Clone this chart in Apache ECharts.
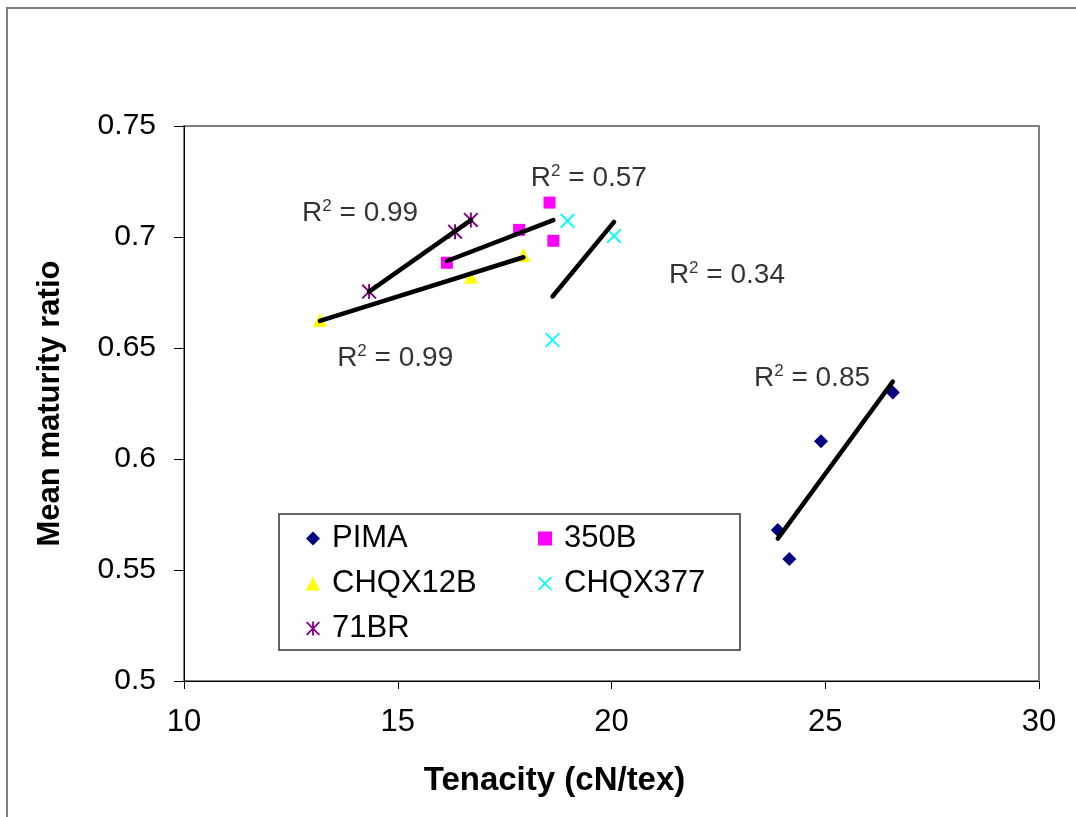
<!DOCTYPE html>
<html>
<head>
<meta charset="utf-8">
<script src="https://cdn.jsdelivr.net/npm/echarts@6/dist/echarts.min.js"></script>
<style>
  html, body { margin: 0; padding: 0; background: #fff; }
  #container { width: 1076px; height: 817px; }
</style>
</head>
<body>
<div id="container"></div>
<script>
// values: [tenacity, maturity ratio]
var pima     = [[26.58, 0.630], [24.90, 0.608], [23.89, 0.568], [24.16, 0.555]];
var b350     = [[18.55, 0.7155], [17.84, 0.7032], [18.64, 0.6983], [16.15, 0.6884]];
var chqx12b  = [[13.18, 0.6626], [16.71, 0.6821], [17.94, 0.6919]];
var chqx377  = [[18.97, 0.7073], [20.06, 0.7005], [18.62, 0.6536]];
var br71     = [[14.33, 0.6754], [16.34, 0.7024], [16.71, 0.7077]];

// R2 labels as printed, with the spot they sit on (data units)
var r2Text   = ['0.99', '0.57', '0.34', '0.99', '0.85'];
var r2Pos    = [[14.12, 0.7108], [19.47, 0.7266], [22.70, 0.6829], [14.94, 0.6455], [24.69, 0.6365]];

var xTicks = { min: 10, max: 30, interval: 5 };
var yTicks = { min: 0.5, max: 0.75, interval: 0.05 };

var FONT = '"Liberation Sans", Arial, sans-serif';

// least squares line, drawn from min x to max x like an Excel trendline
function trend(pts) {
    var n = pts.length, sx = 0, sy = 0, sxx = 0, sxy = 0;
    pts.forEach(function (p) { sx += p[0]; sy += p[1]; sxx += p[0] * p[0]; sxy += p[0] * p[1]; });
    var b = (n * sxy - sx * sy) / (n * sxx - sx * sx);
    var a = (sy - b * sx) / n;
    var xs = pts.map(function (p) { return p[0]; });
    var x0 = Math.min.apply(null, xs), x1 = Math.max.apply(null, xs);
    return [[x0, a + b * x0], [x1, a + b * x1]];
}

var xMark = 'path://M0,0.9 L0.9,0 L10,9.1 L9.1,10 Z M9.1,0 L10,0.9 L0.9,10 L0,9.1 Z';
var starMark = 'path://M0,0.9 L0.9,0 L10,9.1 L9.1,10 Z M9.1,0 L10,0.9 L0.9,10 L0,9.1 Z M4.35,0 L5.65,0 L5.65,10 L4.35,10 Z';

var groups = [
    { name: 'PIMA',    data: pima,    symbol: 'diamond',  size: 14, color: '#000080' },
    { name: '350B',    data: b350,    symbol: 'rect',     size: 12, color: '#FF00FF' },
    { name: 'CHQX12B', data: chqx12b, symbol: 'triangle', size: 14, color: '#FFFF00' },
    { name: 'CHQX377', data: chqx377, symbol: xMark,      size: 15, color: '#00FFFF' },
    { name: '71BR',    data: br71,    symbol: starMark,   size: 15, color: '#800080' }
];

var series = [];
groups.forEach(function (g) {
    series.push({
        name: g.name,
        type: 'scatter',
        data: g.data,
        symbol: g.symbol,
        symbolSize: g.size,
        itemStyle: { color: g.color, opacity: 1 },
        z: 2
    });
});
groups.forEach(function (g) {
    series.push({
        name: g.name + ' trend',
        type: 'line',
        data: trend(g.data),
        showSymbol: false,
        lineStyle: { color: '#000', width: 4.5, cap: 'round' },
        z: 3,
        silent: true
    });
});
series.push({
    name: 'r2',
    type: 'scatter',
    symbolSize: 0,
    silent: true,
    data: r2Pos.map(function (p, i) { return { value: p, txt: r2Text[i] }; }),
    label: {
        show: true,
        position: 'inside',
        formatter: function (p) { return '{r|R}{s|2}{r| = ' + p.data.txt + '}'; },
        rich: {
            r: { fontFamily: FONT, fontSize: 28, color: '#000' },
            s: { fontFamily: FONT, fontSize: 17, color: '#000', padding: [0, 0, 13, 0] }
        }
    },
    z: 4
});

var legendBase = {
    orient: 'vertical',
    padding: 0,
    itemWidth: 14,
    itemHeight: 14,
    itemGap: 14,
    selectedMode: false,
    textStyle: { fontFamily: FONT, fontSize: 31, color: '#000', lineHeight: 31, padding: [0, 0, 0, 7] }
};

var option = {
    animation: false,
    backgroundColor: '#fff',
    grid: {
        left: 184, right: 37, top: 126, bottom: 136,
        show: true, borderColor: '#808080', borderWidth: 2
    },
    legend: [
        Object.assign({}, legendBase, { left: 306, top: 523, data: ['PIMA', 'CHQX12B', '71BR'] }),
        Object.assign({}, legendBase, { left: 538, top: 523, data: ['350B', 'CHQX377'] })
    ],
    xAxis: {
        type: 'value',
        min: xTicks.min, max: xTicks.max, interval: xTicks.interval,
        name: 'Tenacity (cN/tex)',
        nameLocation: 'middle',
        nameGap: 83,
        nameTextStyle: { fontFamily: FONT, fontSize: 33, fontWeight: 'bold', color: '#000', padding: [0, 114, 0, 0] },
        axisLine: { lineStyle: { color: '#000', width: 1 } },
        axisTick: { show: true, length: 8, lineStyle: { color: '#000' } },
        axisLabel: { fontFamily: FONT, fontSize: 31, color: '#000', margin: 26 },
        splitLine: { show: false }
    },
    yAxis: {
        type: 'value',
        min: yTicks.min, max: yTicks.max, interval: yTicks.interval,
        name: 'Mean maturity ratio',
        nameLocation: 'middle',
        nameRotate: 90,
        nameGap: 118,
        nameTextStyle: { fontFamily: FONT, fontSize: 31, fontWeight: 'bold', color: '#000' },
        axisLine: { show: true, lineStyle: { color: '#000', width: 1 } },
        axisTick: { show: true, length: 10, lineStyle: { color: '#000' } },
        axisLabel: { fontFamily: FONT, fontSize: 30, color: '#000', margin: 28 },
        splitLine: { show: false }
    },
    graphic: [
        {
            type: 'rect',
            shape: { x: 7, y: 8, width: 1200, height: 1000 },
            style: { fill: 'none', stroke: '#808080', lineWidth: 2 },
            silent: true
        },
        {
            type: 'rect',
            shape: { x: 279, y: 514, width: 461, height: 136 },
            style: { fill: '#fff', stroke: '#333', lineWidth: 1.5 },
            z: 1,
            silent: true
        }
    ],
    series: series
};

var myChart = echarts.init(document.getElementById('container'));
myChart.setOption(option);
</script>
</body>
</html>
